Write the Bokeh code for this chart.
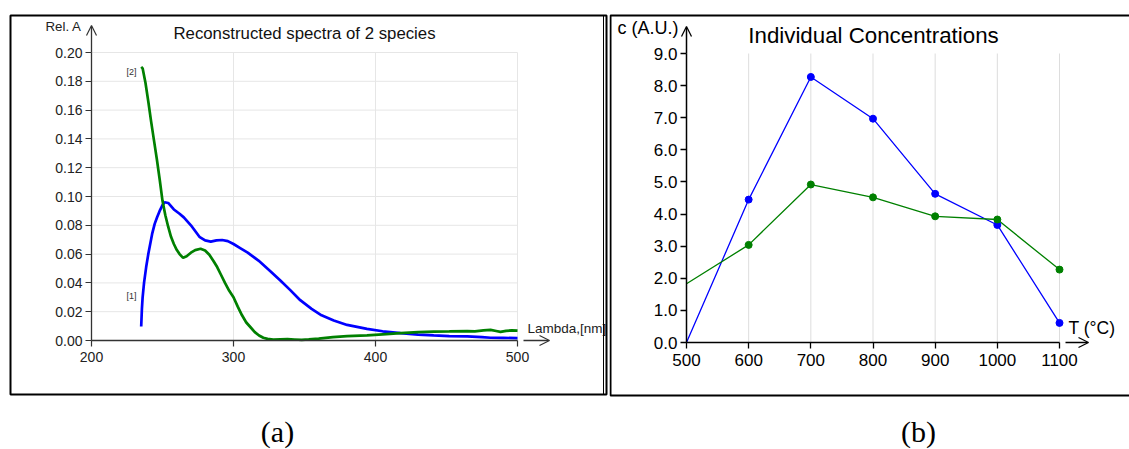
from bokeh.plotting import figure
from bokeh.layouts import row
from bokeh.models import (Range1d, FixedTicker, NumeralTickFormatter, Label,
                          Arrow, OpenHead, BoxAnnotation)
from bokeh.embed import file_html
from bokeh.resources import INLINE

# ---------------- (a) reconstructed spectra ----------------
wl_species1 = [235, 235.5, 236, 237, 238.5, 240, 242.7, 244.5, 246.2, 248, 250,
               251.5, 254, 258, 262, 265, 270, 276, 280, 284, 288, 292, 296,
               300, 305, 310, 317.6, 325, 333, 340, 347, 355, 362, 370.6,
               380, 394, 405, 417.6, 430, 441, 452, 464.6, 475, 481, 490, 500]
abs_species1 = [0.0097, 0.022, 0.030, 0.040, 0.051, 0.060, 0.074, 0.081, 0.0856,
                0.090, 0.094, 0.096, 0.0955, 0.091, 0.088, 0.0855, 0.080, 0.072,
                0.0695, 0.0687, 0.0695, 0.0698, 0.069, 0.067, 0.064, 0.061,
                0.0555, 0.049, 0.0417, 0.035, 0.028, 0.022, 0.0175, 0.0139,
                0.0108, 0.0081, 0.0064, 0.0051, 0.0041, 0.0035, 0.0031, 0.0028,
                0.0023, 0.0019, 0.0018, 0.0017]

wl_species2 = [235, 236, 238, 240, 242, 244, 246, 248, 250, 252, 254, 256, 258,
               260, 262, 264.5, 267, 270, 273, 276.8, 280, 283, 286, 288.5,
               291, 294, 297, 300, 303, 306, 309, 312, 315, 318, 321, 324, 328,
               333, 338, 343, 348, 353, 360, 370, 380, 394, 405, 417.6, 430,
               441, 452, 464.6, 470, 476, 481, 485, 488, 492, 496, 500]
abs_species2 = [0.190, 0.189, 0.179, 0.166, 0.152, 0.139, 0.126, 0.112, 0.097,
                0.087, 0.079, 0.072, 0.067, 0.063, 0.060, 0.0574, 0.0585,
                0.0610, 0.0628, 0.0637, 0.0625, 0.0595, 0.0550, 0.051, 0.046,
                0.040, 0.0345, 0.030, 0.0235, 0.0175, 0.0125, 0.0092, 0.0058,
                0.0035, 0.0019, 0.0011, 0.0007, 0.0008, 0.0009, 0.0007, 0.0005,
                0.0008, 0.0013, 0.0023, 0.0030, 0.0035, 0.0043, 0.0051, 0.0058,
                0.0062, 0.0063, 0.0065, 0.0064, 0.0070, 0.0074, 0.0066, 0.0060,
                0.0067, 0.0070, 0.0068]

ticks_a_x = [200, 300, 400, 500]
ticks_a_y = [0.00, 0.02, 0.04, 0.06, 0.08, 0.10, 0.12, 0.14, 0.16, 0.18, 0.20]

# ---------------- (b) individual concentrations ----------------
temperature = [500, 600, 700, 800, 900, 1000, 1100]
conc_species1 = [0.0, 4.45, 8.27, 6.97, 4.63, 3.66, 0.61]
conc_species2 = [1.83, 3.04, 4.92, 4.52, 3.93, 3.83, 2.27]

ticks_b_x = [500, 600, 700, 800, 900, 1000, 1100]
ticks_b_y = [0, 1, 2, 3, 4, 5, 6, 7, 8, 9]

SANS = "Liberation Sans"
SERIF = "Liberation Serif"
BLUE = "#0000ff"
GREEN = "#008000"


def pixel_mapper(left, top, w, h, xr, yr):
    """Convert canvas pixel positions into data coordinates of a panel."""
    def fx(px):
        return xr[0] + (px - left) / w * (xr[1] - xr[0])

    def fy(py):
        return yr[0] + (top + h - py) / h * (yr[1] - yr[0])
    return fx, fy


def panel_figure(width, height, fx, fy, xr, yr):
    """Whole canvas is the frame; axes sit at fixed locations inside it."""
    p = figure(width=width, height=height,
               x_range=Range1d(fx(0), fx(width)), y_range=Range1d(fy(height), fy(0)),
               output_backend="svg", toolbar_location=None, min_border=0)
    p.outline_line_color = None
    p.background_fill_color = "white"
    p.border_fill_color = "white"
    p.xgrid.visible = False
    p.ygrid.visible = False
    p.xaxis.fixed_location = yr[0]
    p.xaxis.bounds = xr
    p.yaxis.fixed_location = xr[0]
    p.yaxis.bounds = yr
    for ax in (p.xaxis, p.yaxis):
        ax.minor_tick_line_color = None
        ax.major_tick_in = 0
    return p


def grid_lines(p, xs, ys, xr, yr, color):
    if xs:
        p.segment(x0=xs, y0=[yr[0]] * len(xs), x1=xs, y1=[yr[1]] * len(xs),
                  line_color=color, line_width=1, level="underlay")
    if ys:
        p.segment(x0=[xr[0]] * len(ys), y0=ys, x1=[xr[1]] * len(ys), y1=ys,
                  line_color=color, line_width=1, level="underlay")


def text(p, x, y, s, size, font=SANS, color="#000000", align="left"):
    p.add_layout(Label(x=x, y=y, text=s, text_font=font, text_font_size=size,
                       text_color=color, text_align=align, text_baseline="middle"))


def frame_box(p, left, right, top, bottom, width=2):
    p.add_layout(BoxAnnotation(left=left, right=right, top=top, bottom=bottom,
                               fill_color=None, fill_alpha=0,
                               line_color="#000000", line_alpha=1.0, line_width=width))


# ================= panel (a) =================
A_W, A_H = 609, 449
a_xr, a_yr = (200, 500), (0, 0.2)
ax_, ay_ = pixel_mapper(91, 52, 426, 288, a_xr, a_yr)

pa = panel_figure(A_W, A_H, ax_, ay_, a_xr, a_yr)
pa.xaxis.ticker = FixedTicker(ticks=ticks_a_x)
pa.yaxis.ticker = FixedTicker(ticks=ticks_a_y)
pa.yaxis.formatter = NumeralTickFormatter(format="0.00")
for ax in (pa.xaxis, pa.yaxis):
    ax.axis_line_color = "#333333"
    ax.axis_line_width = 1.3
    ax.major_tick_line_color = "#333333"
    ax.major_tick_line_width = 1.2
    ax.major_tick_out = 6
    ax.major_label_text_font = SANS
    ax.major_label_text_font_size = "14px"
    ax.major_label_text_color = "#222222"
pa.yaxis.major_label_standoff = 3
pa.xaxis.major_label_standoff = 5
grid_lines(pa, ticks_a_x[1:], ticks_a_y[1:], a_xr, a_yr, "#e6e6e6")

pa.line(wl_species1, abs_species1, line_color=BLUE, line_width=2.7)
pa.line(wl_species2, abs_species2, line_color=GREEN, line_width=2.7)

# axis arrows
pa.add_layout(Arrow(end=OpenHead(size=10, line_width=1.2, line_color="#333333"),
                    x_start=a_xr[0], y_start=a_yr[1], x_end=a_xr[0], y_end=ay_(25),
                    line_color="#333333", line_width=1.3))
pa.add_layout(Arrow(end=OpenHead(size=10, line_width=1.2, line_color="#333333"),
                    x_start=ax_(523), y_start=0, x_end=ax_(549), y_end=0,
                    line_color="#333333", line_width=1.3))

text(pa, ax_(45), ay_(25.5), "Rel. A", "13.3px", color="#222222")
text(pa, ax_(527), ay_(327.5), "Lambda,[nm]", "13.5px", color="#222222")
text(pa, ax_(304), ay_(33), "Reconstructed spectra of 2 species", "16.8px",
     color="#111111", align="center")
text(pa, ax_(136), ay_(71), "[2]", "9px", color="#333333", align="right")
text(pa, ax_(136), ay_(295), "[1]", "9px", color="#333333", align="right")
text(pa, ax_(277), ay_(431), "(a)", "30px", font=SERIF, align="center")

frame_box(pa, ax_(10), ax_(606), ay_(15), ay_(394))
frame_box(pa, ax_(10), ax_(603), ay_(15), ay_(394), width=1)

# ================= panel (b) =================
B_W, B_H = 520, 449
b_xr, b_yr = (500, 1100), (0, 9)
bx_, by_ = pixel_mapper(77, 53, 373, 289, b_xr, b_yr)

pb = panel_figure(B_W, B_H, bx_, by_, b_xr, b_yr)
pb.xaxis.ticker = FixedTicker(ticks=ticks_b_x)
pb.yaxis.ticker = FixedTicker(ticks=ticks_b_y)
pb.yaxis.formatter = NumeralTickFormatter(format="0.0")
for ax in (pb.xaxis, pb.yaxis):
    ax.axis_line_color = "#000000"
    ax.axis_line_width = 1.5
    ax.major_tick_line_color = "#000000"
    ax.major_tick_line_width = 1.3
    ax.major_tick_out = 6
    ax.major_label_text_font = SANS
    ax.major_label_text_font_size = "17px"
    ax.major_label_text_color = "#000000"
pb.yaxis.major_label_standoff = 3
pb.xaxis.major_label_standoff = 5
grid_lines(pb, ticks_b_x[1:], [], b_xr, b_yr, "#dddddd")

pb.line(temperature, conc_species1, line_color=BLUE, line_width=1.3)
pb.line(temperature, conc_species2, line_color=GREEN, line_width=1.3)
pb.scatter(temperature[1:], conc_species1[1:], size=7, fill_color=BLUE, line_color=BLUE)
pb.scatter(temperature[1:], conc_species2[1:], size=7, fill_color=GREEN, line_color=GREEN)

pb.add_layout(Arrow(end=OpenHead(size=10, line_width=1.3, line_color="#000000"),
                    x_start=b_xr[0], y_start=b_yr[1], x_end=b_xr[0], y_end=by_(26),
                    line_color="#000000", line_width=1.5))
pb.add_layout(Arrow(end=OpenHead(size=10, line_width=1.3, line_color="#000000"),
                    x_start=bx_(456), y_start=0, x_end=bx_(479), y_end=0,
                    line_color="#000000", line_width=1.5))

text(pb, bx_(8), by_(27), "c (A.U.)", "18px")
text(pb, bx_(459), by_(327.5), "T (°C)", "17.5px")
text(pb, bx_(264), by_(34.5), "Individual Concentrations", "22.3px", align="center")
text(pb, bx_(309), by_(431), "(b)", "30px", font=SERIF, align="center")

frame_box(pb, bx_(1), bx_(540), by_(15), by_(395))

layout = row(pa, pb, spacing=0)
open("out.html", "w").write(file_html(layout, INLINE))
